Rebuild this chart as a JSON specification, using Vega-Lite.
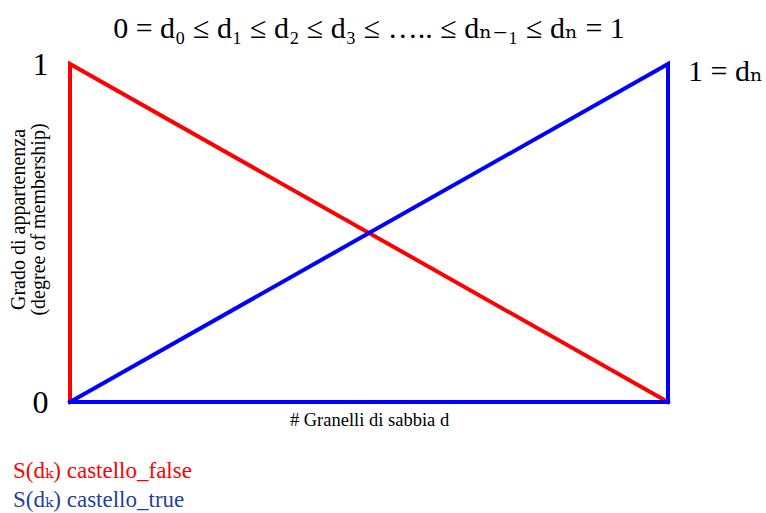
{
  "$schema": "https://vega.github.io/schema/vega-lite/v6.json",
  "width": 598,
  "height": 338,
  "autosize": {"type": "none"},
  "padding": {"left": 70, "top": 64, "right": 98, "bottom": 111},
  "background": "white",
  "config": {
    "view": {"stroke": null},
    "font": "Liberation Serif, DejaVu Serif, serif"
  },
  "title": {
    "text": "0 = d₀ ≤ d₁ ≤ d₂ ≤ d₃ ≤ ….. ≤ dₙ₋₁ ≤ dₙ = 1",
    "font": "Liberation Serif, DejaVu Serif, serif",
    "fontSize": 30,
    "fontWeight": "normal",
    "color": "black",
    "anchor": "middle",
    "offset": 4
  },
  "data": {
    "values": [
      {"series": "false", "order": 1, "d": 0, "membership": 0},
      {"series": "false", "order": 2, "d": 0, "membership": 1},
      {"series": "false", "order": 3, "d": 1, "membership": 0},
      {"series": "true", "order": 1, "d": 0, "membership": 0},
      {"series": "true", "order": 2, "d": 1, "membership": 1},
      {"series": "true", "order": 3, "d": 1, "membership": 0},
      {"series": "true", "order": 4, "d": 0, "membership": 0}
    ]
  },
  "layer": [
    {
      "mark": {"type": "line", "strokeWidth": 4, "strokeJoin": "miter", "strokeCap": "square", "clip": false},
      "encoding": {
        "x": {
          "field": "d", "type": "quantitative",
          "scale": {"domain": [0, 1], "nice": false, "zero": false},
          "axis": {
            "title": "# Granelli di sabbia d",
            "titleFont": "Liberation Serif, DejaVu Serif, serif", "titleFontSize": 18.5, "titleFontWeight": "normal", "titleColor": "black",
            "titlePadding": 8,
            "labels": false, "ticks": false, "domain": false, "grid": false
          }
        },
        "y": {
          "field": "membership", "type": "quantitative",
          "scale": {"domain": [0, 1], "nice": false, "zero": false},
          "axis": {
            "values": [0, 1],
            "format": "d",
            "labelFont": "Liberation Serif, DejaVu Serif, serif", "labelFontSize": 32, "labelColor": "black",
            "labelPadding": 22,
            "ticks": false, "domain": false, "grid": false,
            "title": ["Grado di appartenenza", "(degree of membership)"],
            "titleFont": "Liberation Serif, DejaVu Serif, serif", "titleFontSize": 20, "titleFontWeight": "normal", "titleColor": "black",
            "titleLineHeight": 20,
            "titleX": -42,
            "titleY": 155
          }
        },
        "color": {
          "field": "series", "type": "nominal",
          "scale": {"domain": ["false", "true"], "range": ["#ff0000", "#0000ff"]},
          "legend": {
            "orient": "none",
            "legendX": -80,
            "legendY": 395,
            "direction": "vertical",
            "title": null,
            "symbolSize": 0,
            "symbolOpacity": 0,
            "symbolStrokeWidth": 0,
            "labelOffset": 0,
            "labelFont": "Liberation Serif, DejaVu Serif, serif",
            "labelFontSize": 23,
            "labelLimit": 400,
            "rowPadding": 5,
            "labelExpr": "datum.value == 'false' ? 'S(dₖ) castello_false' : 'S(dₖ) castello_true'",
            "labelColor": {"expr": "datum.value == 'false' ? '#ff0000' : '#1f3f9f'"}
          }
        },
        "order": {"field": "order", "type": "quantitative"}
      }
    },
    {
      "data": {"values": [{"label": "1 = dₙ", "d": 1, "membership": 1}]},
      "mark": {"type": "text", "align": "left", "baseline": "middle", "dx": 20, "dy": 8, "font": "Liberation Serif, DejaVu Serif, serif", "fontSize": 30, "color": "black"},
      "encoding": {
        "x": {"field": "d", "type": "quantitative"},
        "y": {"field": "membership", "type": "quantitative"},
        "text": {"field": "label"}
      }
    }
  ]
}
